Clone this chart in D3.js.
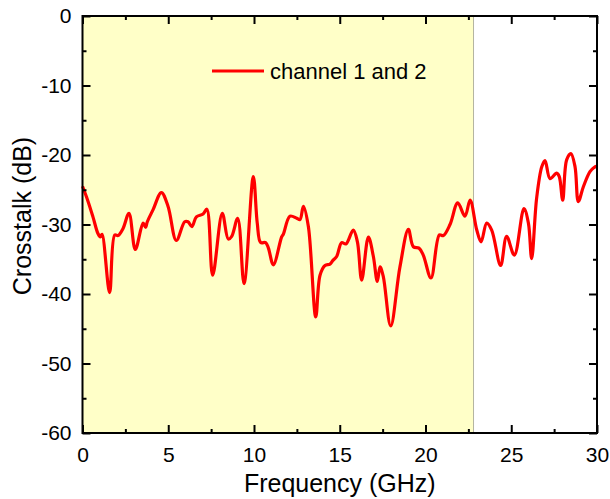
<!DOCTYPE html>
<html>
<head>
<meta charset="utf-8">
<script src="https://cdn.jsdelivr.net/npm/d3@7"></script>
<style>
  body { margin: 0; background: #fff; }
  svg text { font-family: "Liberation Sans", Arial, sans-serif; fill: #000; }
</style>
</head>
<body>
<svg id="chart" width="610" height="499"></svg>
<script>
// data
var freq = [0, 0.3, 0.61, 0.9, 1.04, 1.14, 1.58, 1.88, 2.07, 2.36, 2.71, 3.08, 3.53, 3.68, 3.78,
  4.11, 4.6, 4.99, 5.47, 5.96, 6.15, 6.38, 6.64, 7.03, 7.25, 7.59, 8.15, 8.5, 8.7, 9.05, 9.42,
  9.96, 10.19, 10.39, 10.68, 10.84, 11.13, 11.61, 11.71, 12.1, 12.49, 12.68, 12.88, 13.17, 13.6,
  13.85, 14.14, 14.43, 14.59, 14.82, 15.11, 15.36, 15.79, 16.03, 16.28, 16.67, 16.96, 17.19,
  17.35, 17.54, 17.97, 18.51, 19.0, 19.29, 19.62, 19.87, 20.32, 20.81, 21.04, 21.43, 21.88,
  22.3, 22.6, 22.99, 23.24, 23.57, 23.86, 24.38, 24.73, 25.18, 25.74, 26.0, 26.19, 26.48,
  26.78, 26.97, 27.26, 27.65, 27.8, 28.0, 28.23, 28.48, 28.72, 28.91, 29.2, 29.59, 29.83, 30];
var crosstalk = [-24.5, -26.5, -28.9, -31.3, -31.8, -31.4, -39.8, -31.5, -31.6, -30.6, -28.4,
  -33.6, -29.8, -30.4, -29.6, -27.9, -25.4, -27.4, -32.3, -29.6, -29.6, -30.3, -28.9, -28.5,
  -27.8, -37.3, -28.4, -32.1, -31.7, -29.1, -38.5, -23.1, -29.8, -32.6, -32.6, -33.4, -35.8,
  -31.8, -31.4, -28.8, -29.1, -29.3, -27.4, -30.3, -43.3, -37.3, -35.9, -35.7, -35.2, -34.6,
  -32.6, -32.8, -30.8, -32.5, -38.0, -31.8, -34.6, -38.2, -36.1, -37.5, -44.6, -36.1, -30.7,
  -33.2, -33.4, -34.4, -37.7, -31.5, -31.6, -30.0, -26.9, -28.8, -26.5, -30.8, -32.5, -29.8,
  -30.8, -35.9, -31.7, -34.4, -27.7, -29.8, -34.9, -26.2, -21.7, -20.8, -23.4, -22.6, -23.1,
  -26.5, -20.7, -19.8, -21.7, -26.7, -24.6, -22.4, -21.8, -21.6];
var shadeRange = [0, 22.8];
var xTicks = [0, 5, 10, 15, 20, 25, 30];
var yTicks = [0, -10, -20, -30, -40, -50, -60];
var seriesName = "channel 1 and 2";

var svg = d3.select('#chart');
var pL = 82.5, pR = 597, pT = 16, pB = 433;

var x = d3.scaleLinear().domain([0, 30]).range([pL, pR]);
var y = d3.scaleLinear().domain([-60, 0]).range([pB, pT]);

// shaded band
svg.append('rect')
    .attr('x', x(shadeRange[0]))
    .attr('y', pT)
    .attr('width', x(shadeRange[1]) - x(shadeRange[0]))
    .attr('height', pB - pT)
    .attr('fill', '#ffffc8');
svg.append('line')
    .attr('x1', x(shadeRange[1])).attr('x2', x(shadeRange[1]))
    .attr('y1', pT).attr('y2', pB)
    .attr('stroke', '#b4b4a0').attr('stroke-width', 1);

// curve
var pts = freq.map(function(f, i){ return [f, crosstalk[i]]; });
var line = d3.line()
    .x(function(d){ return x(d[0]); })
    .y(function(d){ return y(d[1]); })
    .curve(d3.curveCatmullRom.alpha(0.5));
svg.append('path')
    .datum(pts)
    .attr('d', line)
    .attr('fill', 'none')
    .attr('stroke', '#ff0000')
    .attr('stroke-width', 3.2)
    .attr('stroke-linejoin', 'round');

// axes, ticks pointing inward
function ax(gen, tf){
    var g = svg.append('g').attr('transform', tf).call(gen);
    g.select('.domain').remove();
    g.selectAll('.tick line').attr('stroke', '#000').attr('stroke-width', 2);
    return g;
}
var xMinor = d3.range(2.5, 30, 5);
var yMinor = d3.range(-55, 0, 10);
var plain = function(d){ return String(d); };   // hyphen minus like the original

var gb = ax(d3.axisBottom(x).tickValues(xTicks).tickSize(-8).tickPadding(14).tickFormat(plain), 'translate(0,' + pB + ')');
gb.selectAll('text').style('font-size', '21px');
ax(d3.axisBottom(x).tickValues(xMinor).tickSize(-4).tickFormat(''), 'translate(0,' + pB + ')');
ax(d3.axisTop(x).tickValues(xTicks).tickSize(-8).tickFormat(''), 'translate(0,' + pT + ')');
ax(d3.axisTop(x).tickValues(xMinor).tickSize(-4).tickFormat(''), 'translate(0,' + pT + ')');

var gl = ax(d3.axisLeft(y).tickValues(yTicks).tickSize(-8).tickPadding(11).tickFormat(plain), 'translate(' + pL + ',0)');
gl.selectAll('text').style('font-size', '21px');
ax(d3.axisLeft(y).tickValues(yMinor).tickSize(-4).tickFormat(''), 'translate(' + pL + ',0)');
ax(d3.axisRight(y).tickValues(yTicks).tickSize(-8).tickFormat(''), 'translate(' + pR + ',0)');
ax(d3.axisRight(y).tickValues(yMinor).tickSize(-4).tickFormat(''), 'translate(' + pR + ',0)');

svg.append('rect')
    .attr('x', pL).attr('y', pT)
    .attr('width', pR - pL).attr('height', pB - pT)
    .attr('fill', 'none').attr('stroke', '#000').attr('stroke-width', 2);

// axis titles
svg.append('text')
    .attr('x', (pL + pR) / 2).attr('y', 492)
    .attr('text-anchor', 'middle')
    .style('font-size', '25px')
    .text('Frequency (GHz)');
svg.append('text')
    .attr('transform', 'translate(31,216) rotate(-90)')
    .attr('text-anchor', 'middle')
    .style('font-size', '25px')
    .text('Crosstalk (dB)');

// legend
svg.append('line')
    .attr('x1', 212).attr('x2', 264)
    .attr('y1', 71).attr('y2', 71)
    .attr('stroke', '#ff0000').attr('stroke-width', 3);
svg.append('text')
    .attr('x', 270).attr('y', 79)
    .style('font-size', '22px')
    .text(seriesName);
</script>
</body>
</html>
